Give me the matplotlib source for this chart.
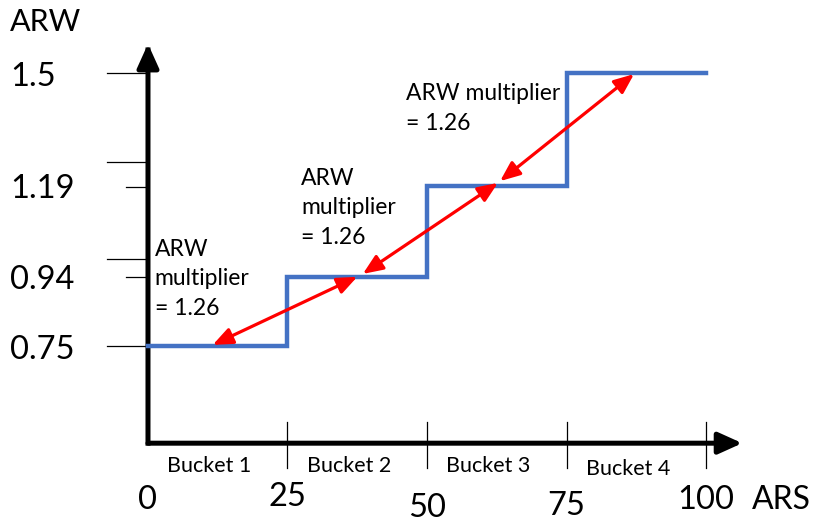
import matplotlib
matplotlib.use("Agg")
import matplotlib.pyplot as plt
from matplotlib.patches import FancyArrowPatch

plt.rcParams['font.family'] = ['Lato', 'DejaVu Sans']

# 階段状のARW（ARSのバケット毎）
ars_edges = [0, 25, 50, 75, 100]
arw_levels = [0.75, 0.94, 1.19, 1.5]

# y軸のラベルと目盛り
y_labels = ["1.5", "1.19", "0.94", "0.75"]
y_label_values = [1.5, 1.19, 0.94, 0.75]
y_long_ticks = [1.5, 1.255, 0.989, 0.75]
y_short_ticks = [1.186, 0.94]

# x軸のラベル
x_ticks = [0, 25, 50, 75, 100]
x_labels = ["0", "25", "50", "75", "100"]
buckets = ["Bucket 1", "Bucket 2", "Bucket 3", "Bucket 4"]

# 赤い矢印 (x0, y0, x1, y1)
arrows = [
    (11.6, 0.753, 37.5, 0.94),
    (38.5, 0.948, 62.7, 1.198),
    (63.1, 1.203, 87.1, 1.497),
]
notes = ["ARW\nmultiplier\n= 1.26", "ARW\nmultiplier\n= 1.26", "ARW multiplier\n= 1.26"]
note_xy = [(1.2, 1.045), (27.4, 1.24), (46.2, 1.472)]

blue = "#4472C4"

fig = plt.figure(figsize=(8.17, 5.22), dpi=100)
ax = fig.add_axes([0, 0, 1, 1])
ax.set_xlim(-26.52, 119.89)
ax.set_ylim(0.2665, 1.7005)
ax.axis("off")

y0 = 0.483  # x軸の位置

# 軸（矢印）
ax.add_patch(FancyArrowPatch((0, y0), (106.5, y0), arrowstyle="-|>,head_length=1.44,head_width=0.65",
                             mutation_scale=10, lw=3.6, color="black", shrinkA=0, shrinkB=0, zorder=3))
ax.add_patch(FancyArrowPatch((0, y0), (0, 1.58), arrowstyle="-|>,head_length=1.44,head_width=0.65",
                             mutation_scale=10, lw=3.6, color="black", shrinkA=0, shrinkB=0, zorder=3,
                             capstyle="projecting"))

# y目盛り
for v in y_long_ticks:
    ax.plot([-7.3, 0], [v, v], color="black", lw=0.9, zorder=2)
for v in y_short_ticks:
    ax.plot([-4.0, 0], [v, v], color="black", lw=0.9, zorder=2)

# x目盛り
for t in x_ticks[1:]:
    ax.plot([t, t], [0.415, 0.541], color="black", lw=0.9, zorder=2)

# 階段
xs = []
ys = []
for i, lev in enumerate(arw_levels):
    xs += [ars_edges[i], ars_edges[i + 1]]
    ys += [lev, lev]
ax.plot(xs, ys, color=blue, lw=3.2, solid_joinstyle="miter", zorder=4)

# 赤い矢印
for x0, ya, x1, yb in arrows:
    ax.add_patch(FancyArrowPatch((x0, ya), (x1, yb), arrowstyle="<|-|>,head_length=1.2,head_width=0.5",
                                 mutation_scale=10, lw=2.3, color="#FF0000", shrinkA=0, shrinkB=0, zorder=5))

for txt, (nx, ny) in zip(notes, note_xy):
    ax.text(nx, ny, txt, fontsize=16.5, va="top", ha="left", linespacing=1.52)

# ラベル
for lab, v in zip(y_labels, y_label_values):
    ax.text(-24.7, v - 0.01, lab, fontsize=23.5, va="center", ha="left")
ax.text(-24.7, 1.64, "ARW", fontsize=22, va="center", ha="left")

x_label_y = [0.327, 0.335, 0.305, 0.31, 0.327]
for lab, t, ly in zip(x_labels, x_ticks, x_label_y):
    ax.text(t, ly, lab, fontsize=23.5, va="center", ha="center")
ax.text(113.5, 0.327, "ARS", fontsize=23, va="center", ha="center")

bucket_y = [0.42, 0.42, 0.42, 0.412]
for i, (b, by) in enumerate(zip(buckets, bucket_y)):
    ax.text((ars_edges[i] + ars_edges[i + 1]) / 2 - 1.5, by, b, fontsize=15.5, va="center", ha="center")

fig.savefig("out.png", dpi=100)
